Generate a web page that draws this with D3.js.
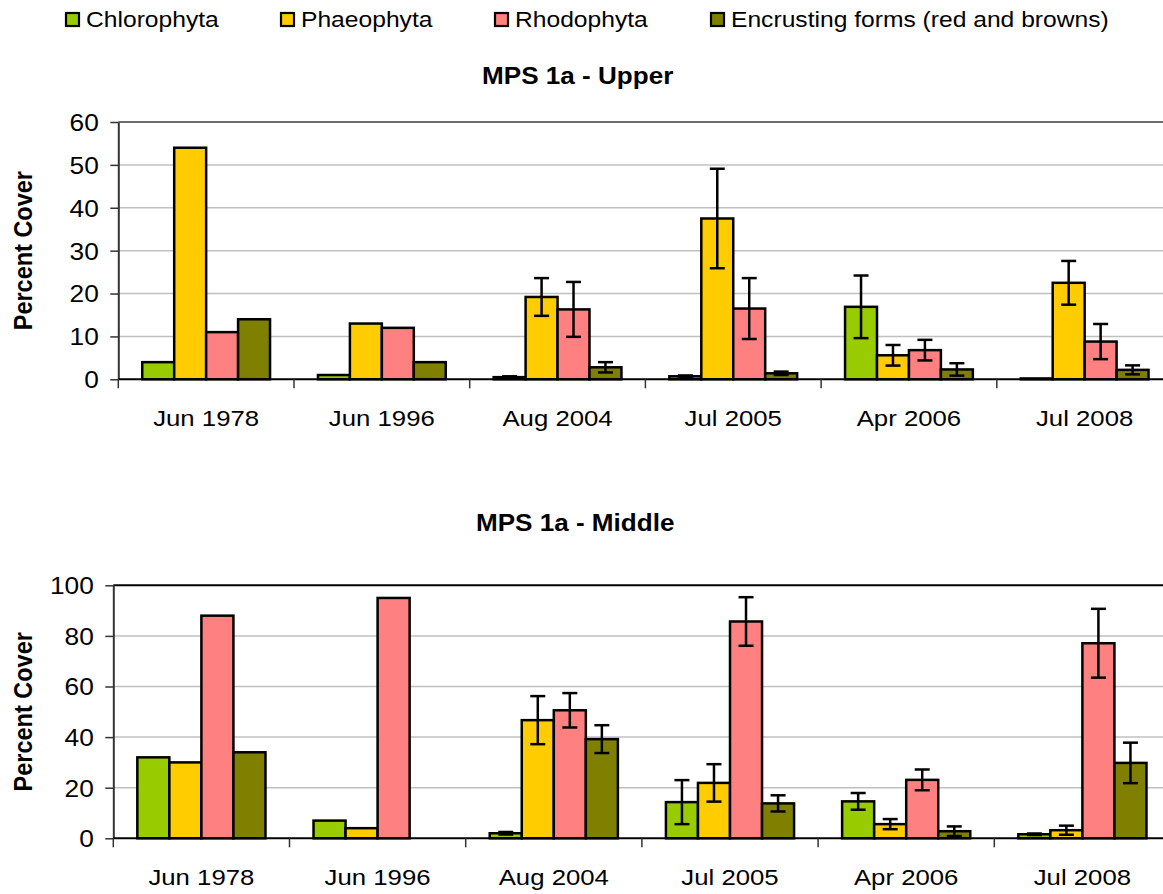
<!DOCTYPE html>
<html>
<head>
<meta charset="utf-8">
<script src="https://cdn.jsdelivr.net/npm/d3@7"></script>
<style>
  body { margin: 0; background: #fff; }
  svg { display: block; }
  text { font-family: "Liberation Sans", Arial, sans-serif; fill: #000; }
</style>
</head>
<body>
<svg id="chart" width="1163" height="894"></svg>
<script>
// ---- data ----
const categories = ["Jun 1978", "Jun 1996", "Aug 2004", "Jul 2005", "Apr 2006", "Jul 2008"];
const seriesNames = ["Chlorophyta", "Phaeophyta", "Rhodophyta", "Encrusting forms (red and browns)"];
const seriesColors = ["#99cc00", "#ffcc00", "#ff8080", "#808000"];

// Upper shore: mean percent cover and +/- error
const upperChlorophyta = [4, 1, 0.5, 0.7, 16.9, 0.2];
const upperPhaeophyta  = [54, 13, 19.2, 37.5, 5.6, 22.5];
const upperRhodophyta  = [11, 12, 16.3, 16.5, 6.8, 8.8];
const upperEncrusting  = [14, 4, 2.8, 1.4, 2.3, 2.2];
const upperChlorophytaErr = [null, null, 0.2, 0.2, 7.3, 0];
const upperPhaeophytaErr  = [null, null, 4.4, 11.6, 2.4, 5.1];
const upperRhodophytaErr  = [null, null, 6.4, 7.1, 2.4, 4.1];
const upperEncrustingErr  = [null, null, 1.2, 0.4, 1.45, 1.05];

// Middle shore: mean percent cover and +/- error
const middleChlorophyta = [32, 7, 2, 14.3, 14.6, 1.6];
const middlePhaeophyta  = [30, 4, 46.7, 21.9, 5.6, 3.2];
const middleRhodophyta  = [88, 95, 50.6, 85.7, 23.1, 77.1];
const middleEncrusting  = [34, 0, 39.2, 13.8, 2.8, 29.8];
const middleChlorophytaErr = [null, null, 0.5, 8.7, 3.3, 0.3];
const middlePhaeophytaErr  = [null, null, 9.5, 7.4, 2.0, 1.8];
const middleRhodophytaErr  = [null, null, 6.8, 9.6, 4.1, 13.6];
const middleEncrustingErr  = [null, null, 5.5, 3.2, 1.9, 8.0];

const upperTicks  = [0, 10, 20, 30, 40, 50, 60];
const middleTicks = [0, 20, 40, 60, 80, 100];

// ---- layout ----
const SX = 1.12; // horizontal text stretch
const svg = d3.select("#chart");

function stretchedText(g, x, y, str, opts = {}) {
  return g.append("text")
    .attr("transform", `translate(${x},${y}) scale(${SX},1)` + (opts.rotate ? ` rotate(${opts.rotate})` : ""))
    .attr("text-anchor", opts.anchor || "start")
    .style("font-size", (opts.size || 22) + "px")
    .style("font-weight", opts.bold ? "bold" : "normal")
    .text(str);
}

// legend
const legendSquares = [66, 281, 495, 711];
const legend = svg.append("g");
seriesNames.forEach((name, i) => {
  legend.append("rect")
    .attr("x", legendSquares[i]).attr("y", 13)
    .attr("width", 13).attr("height", 13)
    .attr("fill", seriesColors[i])
    .attr("stroke", "#000").attr("stroke-width", 2.2);
  stretchedText(legend, legendSquares[i] + 20, 27.3, name, { size: 22 });
});

const panels = [
  {
    title: "MPS 1a - Upper", titleY: 84.3,
    left: 118.3, right: 1172.5, top: 122, bottom: 379.3,
    ticks: upperTicks, frame: "#6e6e6e",
    values: [upperChlorophyta, upperPhaeophyta, upperRhodophyta, upperEncrusting],
    errors: [upperChlorophytaErr, upperPhaeophytaErr, upperRhodophytaErr, upperEncrustingErr]
  },
  {
    title: "MPS 1a - Middle", titleY: 531,
    left: 113.3, right: 1170.5, top: 585.3, bottom: 838.3,
    ticks: middleTicks, frame: "#000",
    values: [middleChlorophyta, middlePhaeophyta, middleRhodophyta, middleEncrusting],
    errors: [middleChlorophytaErr, middlePhaeophytaErr, middleRhodophytaErr, middleEncrustingErr]
  }
];

panels.forEach(p => {
  const g = svg.append("g");
  const x0 = d3.scaleBand().domain(categories).range([p.left, p.right]).padding(0);
  const x1 = d3.scaleBand().domain(seriesNames).range([0, x0.bandwidth()])
    .paddingInner(0).paddingOuter(0.75);
  const y = d3.scaleLinear().domain([0, d3.max(p.ticks)]).range([p.bottom, p.top]);

  // title
  stretchedText(g, (p.left + 1037) / 2 + 0, p.titleY, p.title, { size: 23.3, bold: true, anchor: "middle" });

  // gridlines
  g.append("g").selectAll("line").data(p.ticks.filter(t => t > 0 && t < d3.max(p.ticks)))
    .join("line")
    .attr("x1", p.left).attr("x2", p.right)
    .attr("y1", d => y(d)).attr("y2", d => y(d))
    .attr("stroke", "#c0c0c0").attr("stroke-width", 1.5);

  // top frame
  g.append("line")
    .attr("x1", p.left).attr("x2", p.right)
    .attr("y1", y(d3.max(p.ticks))).attr("y2", y(d3.max(p.ticks)))
    .attr("stroke", p.frame).attr("stroke-width", 2);

  // bars
  const rows = [];
  categories.forEach((c, ci) => {
    seriesNames.forEach((s, si) => {
      rows.push({ c, s, si, v: p.values[si][ci], e: p.errors[si][ci] });
    });
  });
  g.append("g").selectAll("rect").data(rows.filter(d => d.v > 0)).join("rect")
    .attr("x", d => x0(d.c) + x1(d.s))
    .attr("y", d => y(d.v))
    .attr("width", x1.bandwidth())
    .attr("height", d => y(0) - y(d.v))
    .attr("fill", d => seriesColors[d.si])
    .attr("stroke", "#000").attr("stroke-width", 2.5);

  // error bars
  const cap = 7.5;
  const eb = g.append("g").attr("stroke", "#000").attr("stroke-width", 2.5);
  rows.filter(d => d.e != null && d.e > 0).forEach(d => {
    const cx = x0(d.c) + x1(d.s) + x1.bandwidth() / 2;
    const yt = y(d.v + d.e), yb = y(Math.max(0, d.v - d.e));
    eb.append("line").attr("x1", cx).attr("x2", cx).attr("y1", yt).attr("y2", yb);
    eb.append("line").attr("x1", cx - cap).attr("x2", cx + cap).attr("y1", yt).attr("y2", yt);
    eb.append("line").attr("x1", cx - cap).attr("x2", cx + cap).attr("y1", yb).attr("y2", yb);
  });

  // y axis
  const yAxis = g.append("g").attr("transform", `translate(${p.left},0)`)
    .call(d3.axisLeft(y).tickValues(p.ticks).tickSize(8).tickSizeOuter(0).tickFormat(d3.format("d")));
  yAxis.select(".domain").attr("stroke", "#333").attr("stroke-width", 2);
  yAxis.selectAll(".tick line").attr("stroke", "#333").attr("stroke-width", 1.5);
  yAxis.selectAll(".tick text")
    .attr("x", null).attr("dy", null)
    .attr("transform", `translate(-19.5,0) scale(${SX},1)`)
    .attr("dy", "0.36em")
    .attr("fill", "#000")
    .style("font-size", "23.5px")
    .style("font-family", '"Liberation Sans", Arial, sans-serif');

  // x axis line
  g.append("line")
    .attr("x1", p.left).attr("x2", p.right)
    .attr("y1", y(0)).attr("y2", y(0))
    .attr("stroke", "#000").attr("stroke-width", 2);

  // category boundary ticks
  const bounds = categories.map(c => x0(c)).concat([p.right]);
  g.append("g").selectAll("line").data(bounds).join("line")
    .attr("x1", d => d).attr("x2", d => d)
    .attr("y1", y(0)).attr("y2", y(0) + 9)
    .attr("stroke", "#333").attr("stroke-width", 1.5);

  // category labels
  const xAxis = g.append("g").attr("transform", `translate(0,${y(0)})`)
    .call(d3.axisBottom(x0).tickSize(0).tickSizeOuter(0));
  xAxis.select(".domain").remove();
  xAxis.selectAll(".tick text")
    .attr("y", null).attr("dy", null)
    .attr("transform", `translate(0,47) scale(${SX},1)`)
    .attr("fill", "#000")
    .style("font-size", "23px")
    .style("font-family", '"Liberation Sans", Arial, sans-serif');

  // y axis title
  stretchedText(g, 31.7, (p.top + p.bottom) / 2, "Percent Cover", { size: 23.5, bold: true, anchor: "middle", rotate: -90 });
});
</script>
</body>
</html>
